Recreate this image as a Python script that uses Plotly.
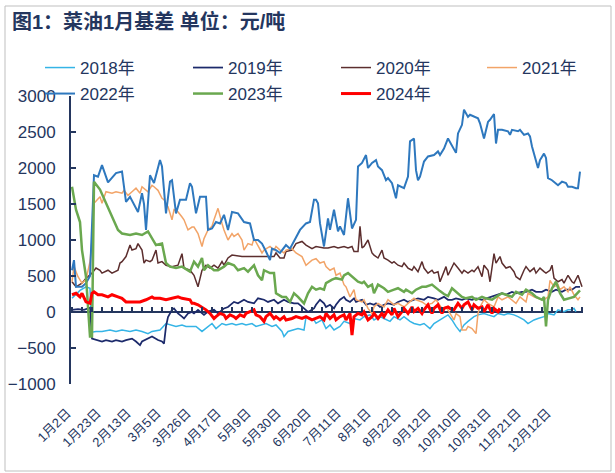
import plotly.graph_objects as go

# ---------------- data (trading-day index, basis in 元/吨) ----------------
tick_days = [0, 15, 30, 45, 60, 75, 90, 105, 120, 135, 150, 165, 180, 195, 210, 225, 240]
tick_labels = ["1月2日", "1月23日", "2月13日", "3月5日", "3月26日", "4月17日", "5月9日",
               "5月30日", "6月20日", "7月11日", "8月1日", "8月22日", "9月12日",
               "10月10日", "10月31日", "11月21日", "12月12日"]

pts_2018 = [(0,190),(2,240),(4,300),(7,350),(9,330),(10,-280),(12,-270),(15,-270),(19,-250),(22,-270),
            (25,-250),(29,-270),(32,-250),(35,-270),(38,-300),(40,-270),(44,-250),(47,-160),(50,-180),
            (52,-200),(55,-180),(57,-200),(60,-200),(62,-200),(65,-270),(67,-230),(70,-160),(72,-230),
            (75,-160),(77,-180),(80,-160),(82,-180),(85,-160),(87,-180),(90,-160),(92,-200),(95,-180),
            (97,-160),(100,-200),(102,-180),(105,-270),(106,-340),(108,-270),(111,-250),(113,-230),
            (116,-250),(117,-70),(119,-90),(121,-110),(122,-157),(125,-110),(127,-230),(129,-180),
            (131,-250),(134,-200),(136,-130),(139,-160),(141,-90),(144,-110),(146,-65),(149,-40),
            (151,-110),(154,-65),(156,-90),(159,-130),(161,-65),(164,-110),(166,-65),(169,-130),
            (171,-160),(174,-180),(176,-160),(179,-230),(181,-160),(184,-110),(186,-65),(188,-40),
            (190,-110),(192,-200),(194,-270),(196,-180),(198,-130),(201,-65),(203,-40),(206,-20),
            (208,-40),(211,-65),(213,-20),(216,-40),(218,-20),(221,-40),(223,-65),(226,-110),
            (228,-160),(231,-110),(233,-90),(236,-65),(238,-20),(241,-40),(243,30),(246,5),(248,30),
            (250,30),(251,50),(252,5)]

pts_2019 = [(0,30),(3,40),(6,30),(9,60),(10,-370),(14,-410),(15,-410),(17,-390),(20,-410),(22,-390),
            (25,-410),(27,-390),(30,-370),(32,-410),(34,-460),(35,-410),(38,-370),(40,-340),(43,-390),
            (45,-410),(46,-440),(47,-200),(48,-70),(50,30),(51,50),(53,-20),(55,-65),(56,-90),(58,-20),
            (60,0),(61,-20),(63,30),(66,-40),(68,5),(71,30),(73,-20),(76,50),(78,70),(81,140),(83,120),
            (86,170),(88,140),(91,120),(93,190),(96,170),(98,140),(101,170),(103,120),(106,170),
            (108,140),(111,120),(113,120),(116,50),(118,0),(121,50),(122,100),(124,170),(126,120),
            (127,70),(129,100),(131,50),(132,100),(134,170),(136,210),(137,170),(139,140),(141,190),
            (142,140),(145,170),(147,100),(149,120),(151,100),(152,120),(154,70),(156,100),(158,120),
            (161,100),(163,140),(166,170),(168,140),(171,170),(173,190),(176,170),(178,210),(181,190),
            (183,170),(186,210),(188,170),(190,170),(192,190),(195,170),(197,190),(200,170),(202,190),
            (205,170),(207,190),(210,210),(212,240),(215,260),(217,240),(220,280),(222,260),(225,280),
            (227,280),(230,310),(232,280),(235,280),(237,310),(240,280),(242,310),(245,280),(247,310),
            (250,310),(252,350),(254,350)]

pts_2020 = [(0,420),(2,350),(5,400),(7,470),(10,540),(12,610),(14,580),(15,540),(18,580),(20,540),
            (23,580),(24,680),(25,700),(27,770),(29,930),(30,860),(32,880),(33,950),(35,860),(36,680),
            (37,720),(39,700),(40,720),(42,860),(43,680),(45,700),(47,650),(50,630),(53,650),(55,810),
            (56,610),(59,580),(61,510),(63,350),(65,580),(67,650),(69,610),(71,650),(73,610),(75,700),
            (76,650),(78,750),(80,790),(82,780),(85,770),(88,770),(91,770),(95,770),(98,780),(101,770),
            (102,820),(104,750),(106,750),(107,840),(110,860),(112,950),(115,980),(117,930),(120,880),
            (122,910),(126,890),(128,890),(131,910),(133,890),(136,910),(138,890),(140,910),(141,840),
            (143,840),(144,1190),(145,890),(146,910),(148,1000),(150,820),(151,790),(153,750),
            (155,860),(156,750),(158,720),(160,680),(161,700),(163,650),(165,630),(166,680),(168,610),
            (170,580),(171,630),(173,560),(175,700),(176,610),(178,540),(180,580),(181,540),(183,560),
            (184,420),(186,580),(187,630),(188,510),(190,630),(191,680),(193,610),(195,540),(196,580),
            (198,540),(200,580),(201,560),(203,630),(205,490),(206,650),(208,580),(209,420),(211,810),
            (212,680),(214,770),(215,680),(217,610),(219,630),(221,560),(222,490),(224,450),(226,580),
            (227,630),(229,560),(231,610),(232,540),(234,610),(236,560),(237,540),(239,580),(240,650),
            (241,470),(243,420),(245,450),(246,400),(248,510),(250,420),(251,400),(253,510),(255,350)]

pts_2021 = [(0,420),(1,630),(3,490),(5,400),(7,450),(9,700),(10,1000),(11,1510),(14,1600),(15,1510),
            (17,1670),(20,1650),(22,1670),(25,1650),(26,1690),(28,1620),(30,1670),(32,1720),(34,1650),
            (35,1740),(38,1670),(40,1760),(41,1740),(43,1690),(45,1580),(46,1560),(48,1460),(50,1280),
            (51,1420),(53,1390),(55,1320),(56,1280),(58,1140),(60,1180),(61,1180),(63,1090),(65,910),
            (66,1020),(68,1140),(70,1190),(71,1280),(73,1440),(75,1230),(76,1140),(78,1000),(80,1090),
            (81,1050),(83,1090),(85,1000),(86,860),(88,950),(90,930),(91,1020),(93,910),(95,820),
            (96,860),(99,910),(101,860),(102,910),(104,860),(106,820),(107,860),(110,880),(112,820),
            (115,770),(117,650),(120,720),(122,740),(124,680),(126,700),(127,630),(129,580),(131,610),
            (132,510),(134,540),(136,380),(137,350),(139,210),(141,310),(142,170),(145,140),(146,170),
            (148,50),(150,-20),(151,70),(153,120),(156,70),(158,170),(161,100),(163,120),(166,70),
            (168,120),(171,190),(172,170),(175,140),(177,100),(180,120),(182,170),(185,50),(187,70),
            (189,-20),(191,-110),(192,-20),(194,-65),(195,-250),(197,-250),(198,-200),(200,-230),
            (202,-300),(203,-20),(204,70),(206,170),(208,120),(211,70),(213,210),(215,170),(218,210),
            (220,170),(222,120),(224,210),(227,140),(228,260),(231,210),(233,190),(236,170),(238,210),
            (239,440),(241,350),(243,380),(244,310),(246,350),(248,280),(249,350),(251,240),(253,170),
            (254,210)]

pts_2022 = [(0,580),(1,720),(2,350),(5,350),(7,400),(9,500),(11,1900),(13,1880),(15,2040),(18,1800),
            (22,1930),(25,1950),(27,1530),(29,1600),(33,1390),(35,1650),(36,1500),(37,1140),(39,1900),
            (41,1790),(44,2110),(45,2020),(47,1370),(49,1810),(50,1830),(52,1370),(54,1560),(57,1560),
            (59,1790),(60,1740),(62,1370),(64,1600),(67,1600),(68,1140),(70,1160),(72,1250),(74,1230),
            (76,1350),(78,1140),(80,1390),(83,1370),(86,1250),(89,1230),(91,1000),(93,1000),(95,950),
            (97,840),(99,720),(100,880),(102,860),(104,820),(107,930),(109,880),(112,1050),(114,1140),
            (117,1230),(119,1250),(121,1560),(122,1560),(123,1510),(124,1230),(126,910),(128,1300),
            (129,1140),(131,1420),(133,1120),(134,1190),(136,1070),(138,1580),(140,1160),(142,1280),
            (143,2020),(145,2070),(147,2180),(148,2000),(150,2070),(152,2110),(153,2020),(155,1970),
            (157,1830),(158,1860),(160,1790),(162,1580),(163,1760),(166,1720),(168,1880),(169,2370),
            (171,2410),(172,1970),(173,1830),(174,1880),(176,2090),(178,2160),(181,2180),(183,2230),
            (184,2180),(186,2270),(188,2410),(190,2300),(192,2210),(193,2480),(195,2600),(196,2810),
            (198,2710),(199,2740),(201,2710),(203,2690),(204,2620),(206,2410),(208,2640),(209,2670),
            (211,2750),(212,2340),(213,2530),(215,2530),(218,2510),(219,2460),(220,2530),(223,2510),
            (224,2530),(226,2460),(228,2480),(229,2440),(230,2300),(232,2090),(233,2000),(234,2110),
            (236,2200),(237,2140),(238,1860),(240,1830),(242,1790),(243,1760),(245,1810),(247,1790),
            (248,1740),(250,1740),(252,1720),(253,1720),(254,1950)]

pts_2023 = [(0,1740),(2,1420),(4,1250),(5,860),(7,490),(8,0),(9,-340),(10,-340),(11,1810),(14,1700),
            (17,1510),(20,1320),(23,1140),(25,1090),(29,1070),(32,1090),(35,1070),(38,1120),(40,1020),
            (42,930),(45,950),(47,680),(49,630),(52,610),(55,630),(59,560),(61,700),(63,630),(65,750),
            (66,580),(68,650),(71,580),(73,580),(76,630),(78,680),(81,650),(83,580),(86,610),(88,560),
            (91,650),(93,510),(95,440),(96,580),(99,540),(101,540),(102,260),(105,210),(107,210),
            (109,140),(111,260),(113,210),(116,120),(118,260),(120,350),(122,310),(124,330),(126,310),
            (127,400),(130,450),(132,470),(135,450),(136,510),(138,540),(140,490),(141,470),(143,420),
            (145,400),(146,420),(148,350),(150,380),(151,260),(153,380),(156,330),(158,280),(161,310),
            (163,330),(166,280),(167,310),(170,260),(172,310),(175,350),(177,350),(180,380),(182,330),
            (184,290),(186,250),(188,220),(190,330),(192,280),(195,210),(197,190),(200,210),(202,170),
            (205,210),(207,190),(210,170),(212,210),(215,260),(217,240),(220,210),(222,280),(225,240),
            (227,310),(230,260),(232,210),(235,170),(236,210),(237,-200),(238,170),(240,330),(242,420),
            (244,260),(246,170),(248,190),(251,210),(252,240),(254,300)]

pts_2024 = [(0,240),(2,260),(4,210),(5,260),(7,140),(9,120),(10,260),(11,280),(13,240),(15,240),
            (18,210),(20,240),(23,210),(25,190),(27,140),(30,140),(34,140),(37,170),(40,210),(41,190),
            (44,190),(47,170),(50,190),(53,210),(55,190),(59,170),(60,120),(61,120),(63,100),(65,70),
            (67,30),(69,-20),(71,-90),(72,-65),(74,-20),(76,-40),(77,-90),(79,-40),(81,-65),(82,-90),
            (84,-40),(86,-65),(87,-20),(89,5),(91,30),(92,-40),(94,-65),(96,-130),(97,-65),(99,-20),
            (101,-90),(102,-65),(104,-110),(106,-65),(107,-110),(110,-90),(112,-65),(115,-90),
            (117,-65),(120,-110),(122,-90),(124,-65),(126,-110),(127,-20),(129,-90),(131,-40),
            (132,-110),(134,-65),(136,-40),(137,-110),(139,-20),(140,-320),(141,-65),(143,-20),
            (145,-40),(146,0),(148,-110),(150,-65),(151,-20),(153,-90),(155,-20),(156,-65),(158,30),
            (160,-40),(161,50),(163,-65),(165,5),(166,50),(168,-20),(170,70),(171,5),(173,50),
            (175,-20),(176,30),(178,100),(180,-20),(181,50),(183,100),(185,-20),(186,50),(188,70),
            (190,30),(191,30),(193,120),(195,50),(196,100),(198,140),(200,30),(201,100),(203,50),
            (205,70),(206,5),(208,100),(210,-20),(211,50),(213,5),(214,50)]

series_names = ["2018年", "2019年", "2020年", "2021年", "2022年", "2023年", "2024年"]
series_pts = [pts_2018, pts_2019, pts_2020, pts_2021, pts_2022, pts_2023, pts_2024]

# ---------------- style ----------------
colors = ["#35B4E6", "#1C2A6B", "#5C2E2E", "#F2A468", "#2E78BE", "#6AA84F", "#FF0000"]
widths = [1.5, 1.75, 1.5, 1.5, 2.0, 2.5, 3.0]
legend_ids = ["legend", "legend", "legend", "legend2", "legend3", "legend3", "legend3"]

NAVY = "#24365E"
FONT = "Liberation Sans, Noto Sans CJK SC, sans-serif"
W, H = 615, 473
ML, MR, MT, MB = 71, 32, 96, 89
PW, PH = W - ML - MR, H - MT - MB

def px_x(px):
    return (px - ML) / PW

def px_y(py):
    return (H - MB - py) / PH

fig = go.Figure()
for name, pts, c, w, lg in zip(series_names, series_pts, colors, widths, legend_ids):
    xs = [p[0] for p in pts]
    ys = [p[1] for p in pts]
    fig.add_trace(go.Scatter(x=xs, y=ys, mode="lines", name=name, legend=lg,
                             line=dict(color=c, width=w), hoverinfo="skip"))

# dummy trace to carry the minor tick axis on the zero line
fig.add_trace(go.Scatter(x=[None], y=[None], xaxis="x2", showlegend=False, hoverinfo="skip"))

legend_common = dict(orientation="h", font=dict(family=FONT, size=17, color=NAVY),
                     bgcolor="rgba(0,0,0,0)", borderwidth=0, entrywidthmode="pixels",
                     xanchor="left", yanchor="middle", itemwidth=30)

fig.update_layout(
    width=W, height=H,
    margin=dict(l=ML, r=MR, t=MT, b=MB, pad=0),
    paper_bgcolor="white", plot_bgcolor="white",
    font=dict(family=FONT, color=NAVY),
    title=dict(text="<b>图1：菜油1月基差 单位：元/吨</b>", xref="container", yref="container",
               x=12 / W, xanchor="left", y=1 - 22 / H, yanchor="middle",
               font=dict(family=FONT, size=20, color=NAVY)),
    legend=dict(legend_common, x=px_x(40), y=px_y(68), entrywidth=103),
    legend2=dict(legend_common, x=px_x(482), y=px_y(68)),
    legend3=dict(legend_common, x=px_x(40), y=px_y(94), entrywidth=103),
    xaxis=dict(range=[-0.5, 255.5], tickmode="array", tickvals=tick_days, ticktext=tick_labels,
               tickangle=-45, ticks="", showline=False, showgrid=False, zeroline=False,
               automargin=False, ticklabelshift=-5,
               tickfont=dict(family=FONT, size=13, color=NAVY), ticklabelstandoff=18),
    xaxis2=dict(overlaying="x", anchor="free", position=px_y(312), side="top",
                range=[-0.5, 255.5], tick0=0, dtick=5, ticks="outside", ticklen=5, tickwidth=1.5,
                tickcolor=NAVY, showticklabels=False, showgrid=False, zeroline=False, showline=False),
    yaxis=dict(range=[-1000, 3000], dtick=500, tick0=0, ticks="inside", ticklen=5, tickwidth=1.5,
               tickcolor=NAVY, showline=True, linewidth=2, linecolor=NAVY, showgrid=False,
               zeroline=True, zerolinecolor=NAVY, zerolinewidth=2, automargin=False,
               tickfont=dict(family=FONT, size=17, color=NAVY), ticklabelstandoff=10),
    shapes=[dict(type="rect", xref="paper", yref="paper", x0=px_x(5), x1=px_x(611),
                 y0=px_y(471), y1=px_y(6), line=dict(color="#BFBFBF", width=1), layer="below")],
    showlegend=True,
)

fig.write_html("out.html", config={"displayModeBar": False},
               post_script="document.body.style.margin='0';")
